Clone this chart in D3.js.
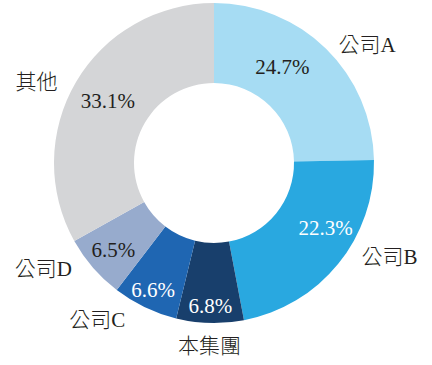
<!DOCTYPE html>
<html>
<head>
<meta charset="utf-8">
<script src="https://cdn.jsdelivr.net/npm/d3@7"></script>
<style>
  html, body { margin: 0; padding: 0; background: #fff; }
</style>
</head>
<body>
<svg id="donut" width="432" height="365"></svg>
<script>
// data
const names = ["公司A", "公司B", "本集團", "公司C", "公司D", "其他"];
const shares = [24.7, 22.3, 6.8, 6.6, 6.5, 33.1];
const colors = ["#a6dcf3", "#29a8e0", "#183f6c", "#1f66b2", "#97abcd", "#d4d5d7"];
const pctColors = ["#231f20", "#ffffff", "#ffffff", "#ffffff", "#231f20", "#231f20"];

// layout
const cx = 214, cy = 163;
const outerR = 160, innerR = 80;
const latinFont = "Liberation Serif";
const cjkFont = "Noto Sans CJK TC";
// small angle nudges (deg) so labels sit where the original put them
const pctNudge = [-9, -9, 0, 0, 0, 0];
const pctRadius = [118, 129, 143, 141, 133, 123];
const nameNudge = [8, -11, 0, 11, 9, -6];
const nameRadius = [193, 199, 183, 196, 201, 195];

const svg = d3.select("#donut");
const g = svg.append("g").attr("transform", `translate(${cx},${cy})`);

const table = names.map((n, i) => ({ name: n, value: shares[i], i: i }));

const pie = d3.pie()
    .sort(null)
    .value(d => d.value);

const arc = d3.arc()
    .innerRadius(innerR)
    .outerRadius(outerR);

const arcs = pie(table);

g.selectAll("path.slice")
    .data(arcs)
    .enter()
    .append("path")
    .attr("class", "slice")
    .attr("d", arc)
    .attr("fill", d => colors[d.data.i]);

const deg = Math.PI / 180;
const mid = d => (d.startAngle + d.endAngle) / 2;

// split a string into cjk / latin runs, each in its own tspan
function fillRuns(sel, str) {
    const runs = str.match(/[\u3000-\u9fff]+|[^\u3000-\u9fff]+/g);
    runs.forEach(r => {
        const cjk = /[\u3000-\u9fff]/.test(r);
        sel.append("tspan")
            .style("font-family", cjk ? `'${cjkFont}'` : `'${latinFont}', serif`)
            .style("font-weight", cjk ? 300 : 400)
            .text(r);
    });
}

// percentage labels inside the ring
g.selectAll("text.pct")
    .data(arcs)
    .enter()
    .append("text")
    .attr("class", "pct")
    .attr("text-anchor", "middle")
    .attr("dy", "0.33em")
    .attr("font-size", 21)
    .attr("transform", d => {
        const p = d3.pointRadial(mid(d) + pctNudge[d.data.i] * deg, pctRadius[d.data.i]);
        return `translate(${p[0]},${p[1]})`;
    })
    .attr("fill", d => pctColors[d.data.i])
    .each(function (d) { fillRuns(d3.select(this), d.data.value.toFixed(1) + "%"); });

// name labels outside the ring
g.selectAll("text.name")
    .data(arcs)
    .enter()
    .append("text")
    .attr("class", "name")
    .attr("text-anchor", "middle")
    .attr("dy", "0.33em")
    .attr("font-size", 21)
    .attr("transform", d => {
        const p = d3.pointRadial(mid(d) + nameNudge[d.data.i] * deg, nameRadius[d.data.i]);
        return `translate(${p[0]},${p[1]})`;
    })
    .attr("fill", "#231f20")
    .each(function (d) { fillRuns(d3.select(this), d.data.name); });
</script>
</body>
</html>
